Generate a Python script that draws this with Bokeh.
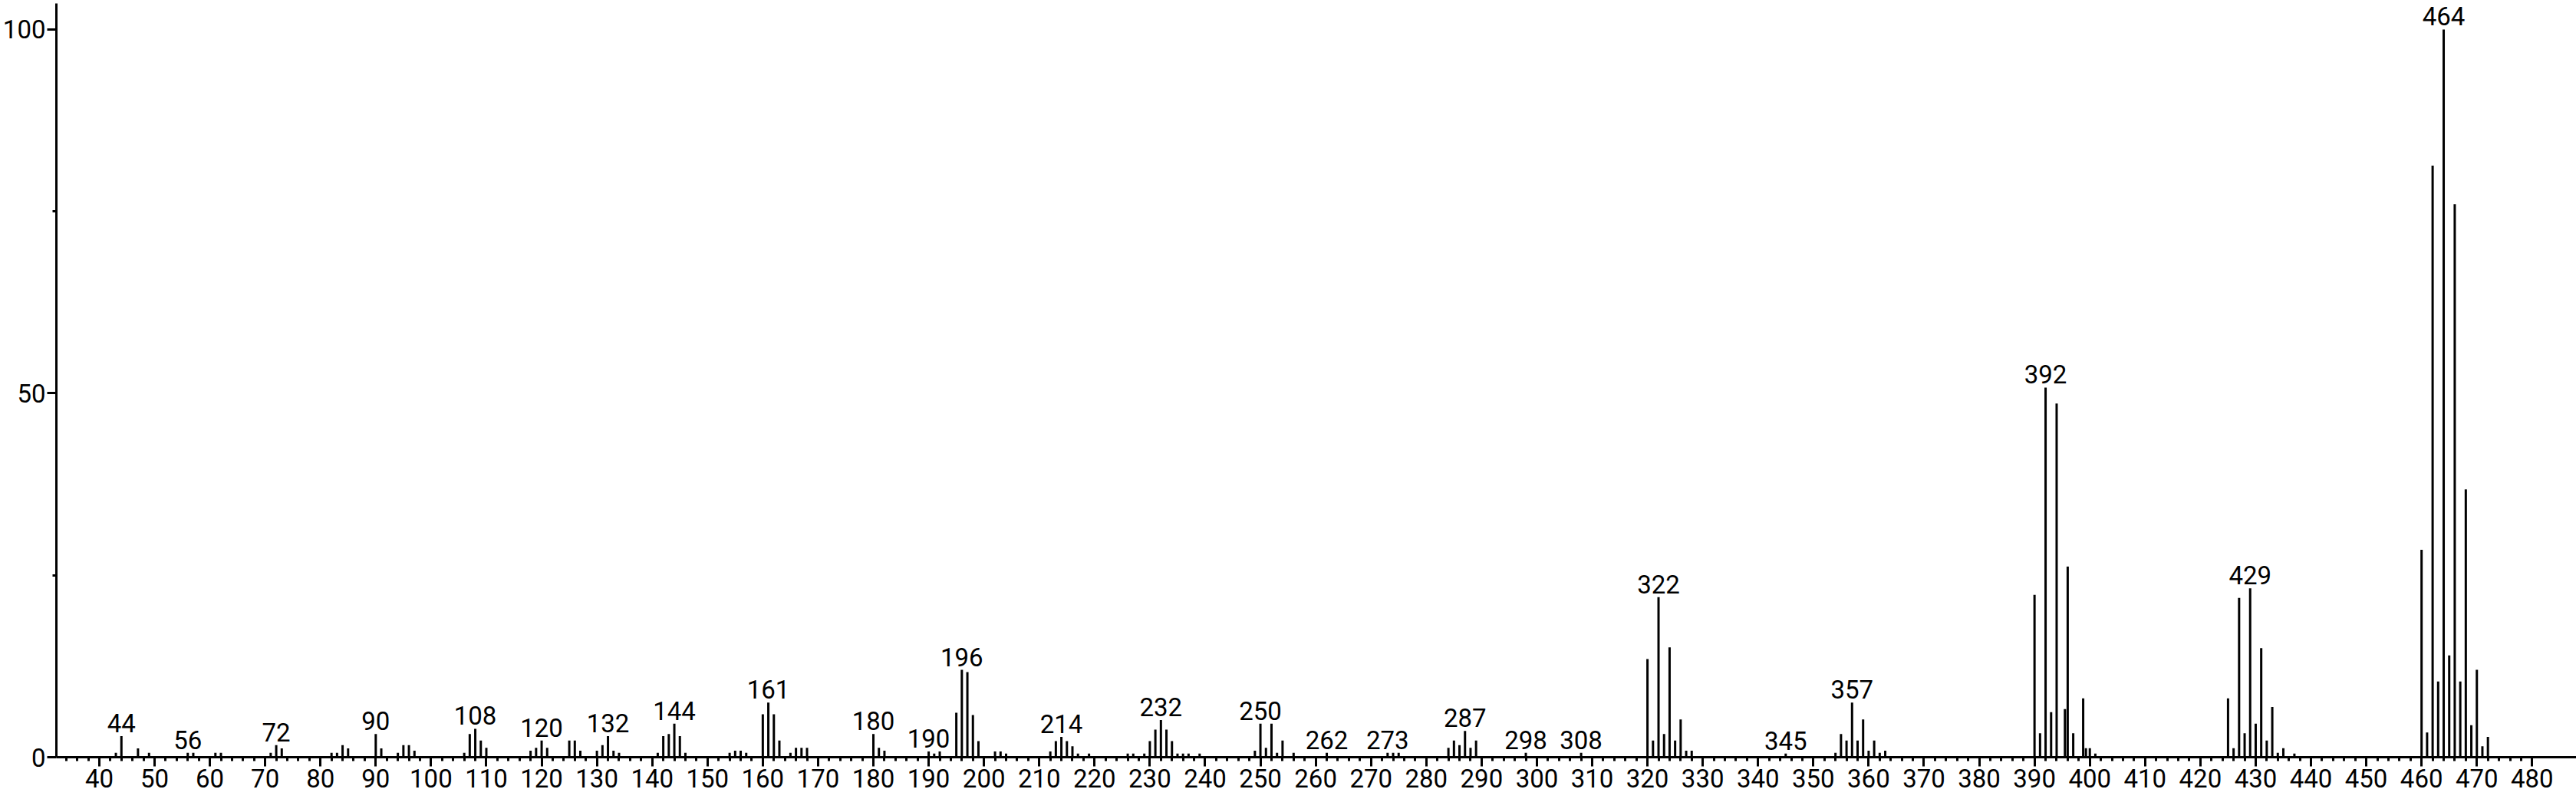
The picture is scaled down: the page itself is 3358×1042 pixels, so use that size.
from bokeh.plotting import figure
from bokeh.models import ColumnDataSource, FixedTicker, LabelSet, Range1d
from bokeh.core.properties import value
from bokeh.embed import file_html
from bokeh.resources import INLINE

# m/z values and relative intensities (%)
mz = [43, 44, 47, 49, 56, 57, 61, 62, 71, 72, 73, 82, 83, 84, 85,
      90, 91, 94, 95, 96, 97,
      106, 107, 108, 109, 110, 118, 119, 120, 121, 125, 126, 127,
      130, 131, 132, 133, 134, 141, 142, 143, 144, 145, 146,
      154, 155, 156, 157, 160, 161, 162, 163, 165, 166, 167, 168,
      180, 181, 182, 190, 191, 192, 195, 196, 197, 198, 199,
      202, 203, 204, 212, 213, 214, 215, 216, 217, 219,
      226, 227, 229, 230, 231, 232, 233, 234, 235, 236, 237, 239,
      249, 250, 251, 252, 253, 254, 256, 262, 273, 274, 275,
      284, 285, 286, 287, 288, 289, 298, 308,
      320, 321, 322, 323, 324, 325, 326, 327, 328, 345,
      354, 355, 356, 357, 358, 359, 360, 361, 362, 363,
      390, 391, 392, 393, 394, 395.5, 396, 397, 398.8, 399.3, 400, 401,
      425, 426, 427, 428, 429, 430, 431, 432, 433, 434, 435, 437,
      460, 461, 462, 463, 464, 465, 466, 467, 468, 469, 470, 471, 472]
intensity = [0.6, 2.9, 1.2, 0.6, 0.6, 0.6, 0.6, 0.6, 0.6, 1.65, 1.2, 0.6, 0.6, 1.65, 1.2,
             3.2, 1.2, 0.6, 1.65, 1.65, 0.9,
             0.6, 3.2, 3.9, 2.3, 1.3, 0.9, 1.3, 2.3, 1.3, 2.3, 2.3, 0.9,
             0.9, 1.65, 2.9, 0.9, 0.6, 0.6, 2.9, 3.2, 4.6, 2.9, 0.6,
             0.6, 0.9, 0.9, 0.6, 5.9, 7.5, 5.9, 2.3, 0.6, 1.3, 1.3, 1.3,
             3.2, 1.3, 0.9, 0.8, 0.5, 0.8, 6.1, 12.0, 11.7, 5.8, 2.2,
             0.8, 0.8, 0.5, 0.8, 2.2, 2.8, 2.2, 1.5, 0.5, 0.5,
             0.5, 0.5, 0.5, 2.2, 3.8, 5.1, 3.8, 2.2, 0.5, 0.5, 0.5, 0.5,
             0.9, 4.6, 1.3, 4.6, 0.6, 2.3, 0.6, 0.6, 0.6, 0.6, 0.6,
             1.3, 2.3, 1.65, 3.6, 1.3, 2.3, 0.6, 0.6,
             13.5, 2.3, 22.0, 3.2, 15.1, 2.3, 5.2, 0.9, 0.9, 0.5,
             0.6, 3.2, 2.3, 7.5, 2.3, 5.2, 0.9, 2.3, 0.6, 0.9,
             22.3, 3.3, 50.8, 6.2, 48.6, 6.6, 26.2, 3.3, 8.1, 1.25, 1.25, 0.5,
             8.1, 1.25, 21.9, 3.3, 23.2, 4.6, 15.0, 2.3, 6.9, 0.6, 1.25, 0.5,
             28.5, 3.4, 81.3, 10.4, 100.0, 14.0, 76.0, 10.4, 36.8, 4.4, 12.0, 1.5, 2.8]

# annotated peaks
label_mz = [44, 56, 72, 90, 108, 120, 132, 144, 161, 180, 190, 196, 214, 232,
            250, 262, 273, 287, 298, 308, 322, 345, 357, 392, 429, 464]

x_ticks = list(range(40, 481, 10))
x_minor_ticks = [v for v in range(34, 480, 2) if v % 10 != 0]
y_ticks = [0, 50, 100]
y_minor_ticks = [25, 75]

FONT = "Roboto"
FS = "33px"

lookup = dict(zip(mz, intensity))
peaks = ColumnDataSource(dict(mz=mz, inten=intensity))
labels = ColumnDataSource(dict(x=label_mz, y=[lookup[m] for m in label_mz],
                               text=[str(m) for m in label_mz]))

p = figure(width=3358, height=1042, output_backend="svg", toolbar_location=None,
           x_range=Range1d(32.24, 488.0), y_range=Range1d(0, 103.58),
           min_border_left=70, min_border_right=0, min_border_top=4, min_border_bottom=55)
p.outline_line_color = None
p.grid.visible = False
p.background_fill_color = "white"
p.border_fill_color = "white"

p.segment(x0="mz", y0=0, x1="mz", y1="inten", source=peaks,
          line_width=3, line_color="black", line_cap="butt")

p.add_layout(LabelSet(x="x", y="y", text="text", source=labels,
                      text_align="center", text_baseline="alphabetic", y_offset=5,
                      text_font=value(FONT), text_font_size=value(FS),
                      text_color="black"))

for ax in (p.xaxis[0], p.yaxis[0]):
    ax.axis_line_width = 3
    ax.axis_line_color = "black"
    ax.major_tick_line_width = 3
    ax.minor_tick_line_width = 3
    ax.major_tick_line_color = "black"
    ax.minor_tick_line_color = "black"
    ax.major_tick_in = 0
    ax.minor_tick_in = 0
    ax.major_tick_out = 12
    ax.minor_tick_out = 5
    ax.major_label_text_font = FONT
    ax.major_label_text_font_size = FS
    ax.major_label_text_color = "black"

p.xaxis.ticker = FixedTicker(ticks=x_ticks, minor_ticks=x_minor_ticks)
p.yaxis.ticker = FixedTicker(ticks=y_ticks, minor_ticks=y_minor_ticks)
p.xaxis.major_label_standoff = 3
p.yaxis.major_label_standoff = 2

open("out.html", "w").write(file_html(p, INLINE))
